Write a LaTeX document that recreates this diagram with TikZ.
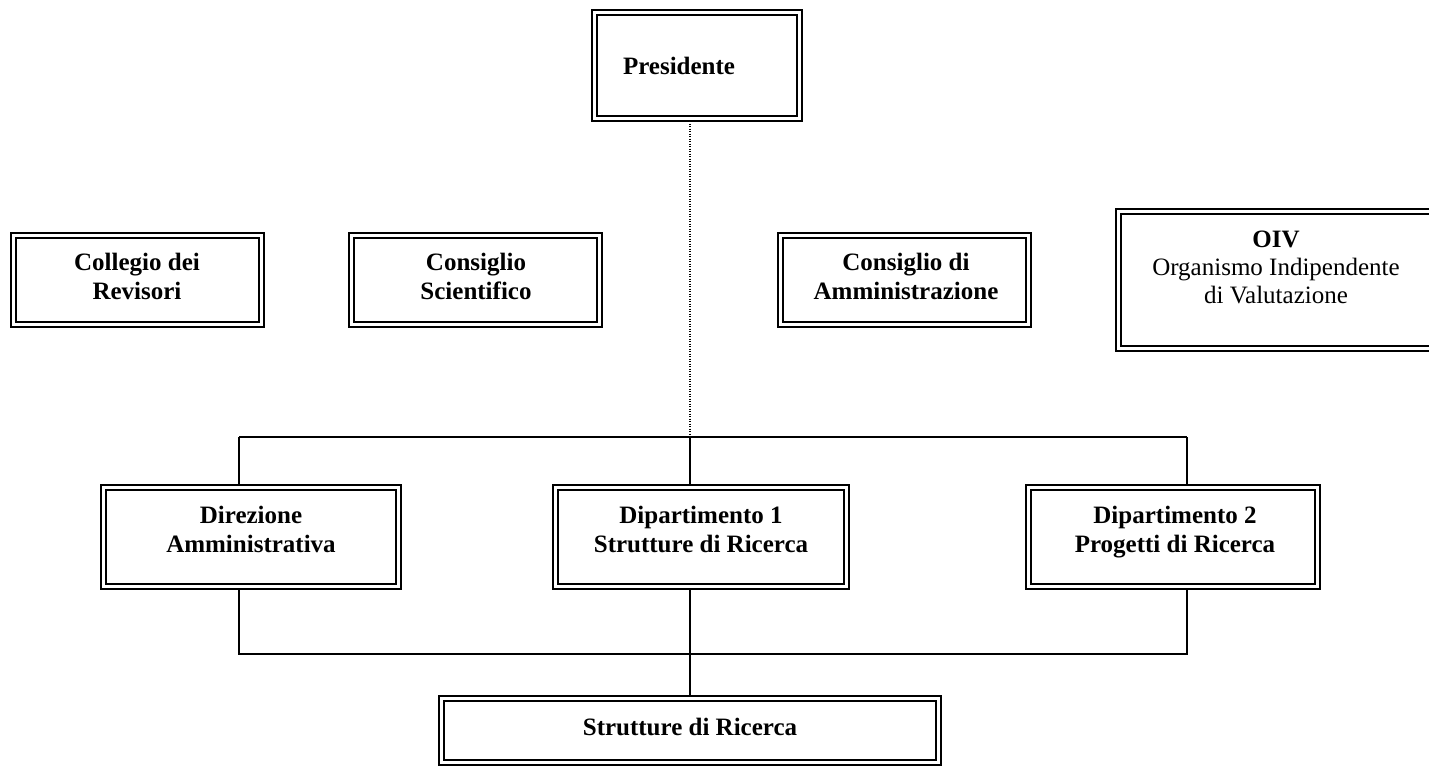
\documentclass[tikz,border=0pt]{standalone}
\usepackage{fontspec}
\setmainfont{Liberation Serif}
\usetikzlibrary{fit}
\tikzset{
  outerb/.style={draw=black, line width=1.2pt, inner sep=0pt, outer sep=0pt, rectangle},
  innerb/.style={draw=black, line width=0.7pt},
  conn/.style={draw=black, line width=0.8pt},
  dotconn/.style={draw=black, line width=0.6pt, dash pattern=on 0.5pt off 0.75pt},
  lbl/.style={font=\fontsize{12.5}{14.5}\selectfont\bfseries, align=center, inner sep=0pt, anchor=base},
  lblr/.style={font=\fontsize{12.5}{14}\selectfont, align=center, inner sep=0pt, anchor=base},
}
\newcommand\orgbox[5]{%
  \path (#2,#3) coordinate (#1-nw) (#4,#5) coordinate (#1-se);
  \node[outerb, fit=(#1-nw)(#1-se)] (#1) {};
  \draw[innerb] ([shift={(5,5)}]#1.north west) rectangle ([shift={(-5,-5)}]#1.south east);
}
\begin{document}
\begin{tikzpicture}[x=0.5pt, y=-0.5pt]
\useasboundingbox (0,0) rectangle (1429,767);

% boxes
\orgbox{pres}{592}{10}{802}{121}
\orgbox{coll}{11}{233}{264}{327}
\orgbox{scie}{349}{233}{602}{327}
\orgbox{amm}{778}{233}{1031}{327}
\orgbox{oiv}{1116}{209}{1440}{351}
\orgbox{dir}{101}{485}{401}{589}
\orgbox{dip1}{553}{485}{849}{589}
\orgbox{dip2}{1026}{485}{1320}{589}
\orgbox{str}{439}{696}{941}{765}

% texts
\node[lbl] (t-pres) at (679,74) {Presidente};
\node[lbl] (t-coll) at (137,299) {Collegio dei\\Revisori};
\node[lbl] (t-scie) at (476,299) {Consiglio\\Scientifico};
\node[lbl] (t-amm) at (906,299) {Consiglio di\\Amministrazione};
\node[lbl] (t-oiv) at (1276,247) {OIV};
\node[lblr] (t-oiv2) at (1276,303) {Organismo Indipendente\\di Valutazione};
\node[lbl] (t-dir) at (251,552) {Direzione\\Amministrativa};
\node[lbl] (t-dip1) at (701,552) {Dipartimento 1\\Strutture di Ricerca};
\node[lbl] (t-dip2) at (1175,552) {Dipartimento 2\\Progetti di Ricerca};
\node[lbl] (t-str) at (690,735) {Strutture di Ricerca};

% connectors
\coordinate (busL) at (239,437);
\coordinate (busM) at (690,437);
\coordinate (busR) at (1187,437);
\coordinate (lowL) at (239,654);
\coordinate (lowR) at (1187,654);

\draw[dotconn] (pres.south -| busM) -- (busM);
\draw[conn] (busL) -- (busR);
\draw[conn] (busL) -- (busL |- dir.north);
\draw[conn] (busM) -- (busM |- dip1.north);
\draw[conn] (busR) -- (busR |- dip2.north);
\draw[conn] (busL |- dir.south) -- (lowL) -- (lowR) -- (busR |- dip2.south);
\draw[conn] (busM |- dip1.south) -- (busM |- str.north);
\end{tikzpicture}
\end{document}
